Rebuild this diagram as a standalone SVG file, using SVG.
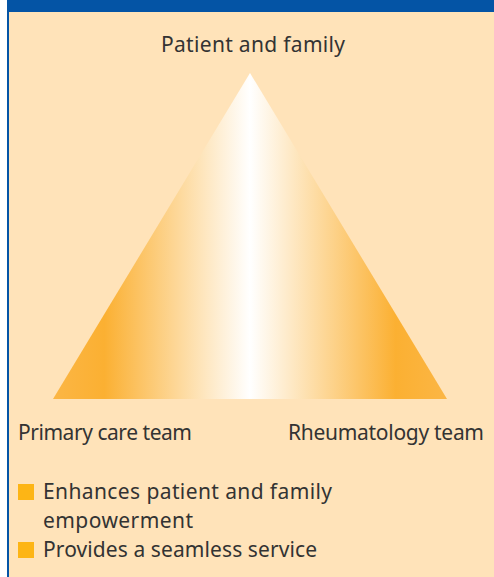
<svg xmlns="http://www.w3.org/2000/svg" width="494" height="577" viewBox="0 0 494 577">
<defs>
<linearGradient id="tri" gradientUnits="userSpaceOnUse" x1="53" y1="0" x2="447" y2="0">
<stop offset="0" stop-color="#FBB645"/>
<stop offset="0.13" stop-color="#FBB032"/>
<stop offset="0.5" stop-color="#FFFFFF"/>
<stop offset="0.87" stop-color="#FBB032"/>
<stop offset="1" stop-color="#FBB645"/>
</linearGradient>
<style>
.t{font-family:"Noto Sans","Open Sans","DejaVu Sans",sans-serif;font-size:21px;fill:#333333}
.b{fill:#FDB515}
</style>
</defs>
<rect x="0" y="0" width="494" height="577" fill="#FFFFFF"/>
<rect x="7" y="0" width="487" height="577" fill="#FFE3B9"/>
<rect x="7" y="0" width="487" height="12" fill="#0454A5"/>
<rect x="7" y="0" width="2" height="577" fill="#0454A5"/>
<g id="triangle">
<polygon points="250,73 53,399 447,399" fill="url(#tri)"/>
</g>
<g id="node-patient">
<text class="t" x="161" y="52" textLength="184" lengthAdjust="spacing">Patient and family</text>
</g>
<g id="node-primary">
<text class="t" x="18" y="440" textLength="174" lengthAdjust="spacing">Primary care team</text>
</g>
<g id="node-rheum">
<text class="t" x="288" y="440" textLength="196" lengthAdjust="spacing">Rheumatology team</text>
</g>
<g id="connectors"></g>
<g id="bullets">
<rect class="b" x="18" y="484" width="16" height="16"/>
<text class="t" x="43" y="499" textLength="289" lengthAdjust="spacing">Enhances patient and family</text>
<text class="t" x="43" y="528" textLength="150" lengthAdjust="spacing">empowerment</text>
<rect class="b" x="18" y="542" width="16" height="16"/>
<text class="t" x="43" y="557" textLength="274" lengthAdjust="spacing">Provides a seamless service</text>
</g>
</svg>
